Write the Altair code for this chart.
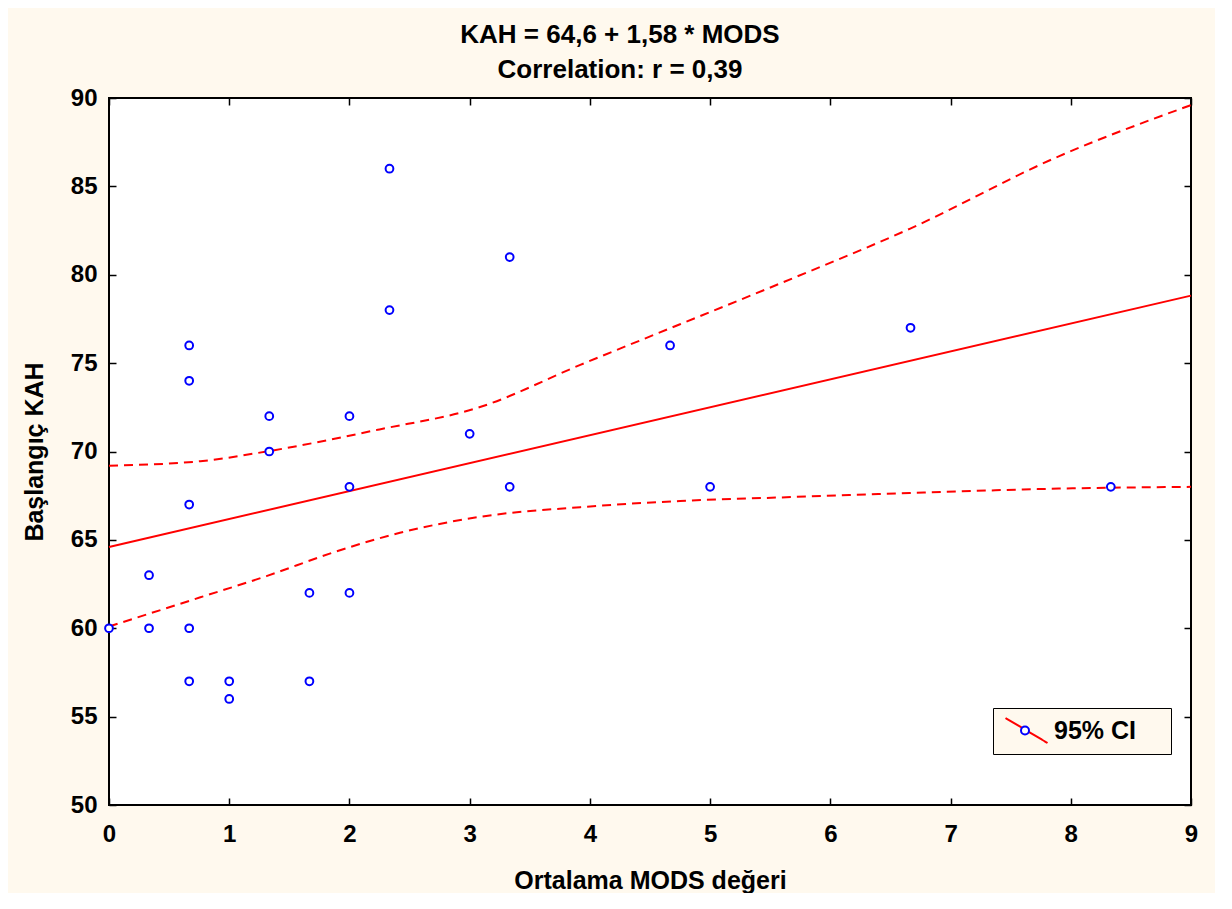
import altair as alt
import pandas as pd

# scatter points (Ortalama MODS değeri, Başlangıç KAH)
pts_x = [0, 0.333, 0.333, 0.667, 0.667, 0.667, 0.667, 0.667, 1, 1, 1.333, 1.333,
         1.667, 1.667, 2, 2, 2, 2.333, 2.333, 3, 3.333, 3.333, 4.667, 5, 6.667, 8.333]
pts_y = [60, 63, 60, 76, 74, 67, 60, 57, 57, 56, 72, 70,
         62, 57, 72, 68, 62, 86, 78, 71, 81, 68, 76, 68, 77, 68]

# regression line endpoints
reg_x = [0, 9]
reg_y = [64.6, 78.82]

# 95% confidence band
upper_x = [0, 0.76, 1.31, 2.25, 3.08, 3.92, 4.75, 5.58, 6.66, 7.9, 9]
upper_y = [69.2, 69.45, 70.0, 71.25, 72.5, 74.9, 77.2, 79.5, 82.6, 86.7, 89.6]
lower_x = [0, 0.76, 1.31, 1.87, 2.42, 3.08, 3.92, 4.75, 5.58, 6.66, 7.9, 9]
lower_y = [60.1, 61.75, 62.95, 64.3, 65.4, 66.3, 66.85, 67.2, 67.4, 67.65, 67.9, 68.0]

legend_label = "95% CI"
x_title = "Ortalama MODS değeri"
y_title = "Başlangıç KAH"
title_lines = ["KAH = 64,6 + 1,58 * MODS", "Correlation: r = 0,39"]

FONT = "Liberation Sans"
CREAM = "#FFF9EE"
RED = "#FF0000"
BLUE = "#0000FF"

pts = pd.DataFrame({"x": pts_x, "y": pts_y, "pt": "points"})
reg = pd.DataFrame({"x": reg_x, "y": reg_y, "ci": legend_label})
ci = pd.concat([
    pd.DataFrame({"x": upper_x, "y": upper_y, "band": "upper", "ci": legend_label,
                  "bx": "band"}),
    pd.DataFrame({"x": lower_x, "y": lower_y, "band": "lower", "ci": legend_label,
                  "bx": "band"}),
])

xs = alt.Scale(domain=[0, 9], nice=False, zero=False)
ys = alt.Scale(domain=[50, 90], nice=False, zero=False)

tick_common = dict(domain=False, grid=False, tickColor="black", tickWidth=1.5,
                   tickSize=7, offset=-7, labelFont=FONT, labelFontSize=24,
                   labelFontWeight="bold", labelColor="black", labelFlush=False,
                   labelOverlap=False,
                   titleFont=FONT, titleFontSize=25, titleFontWeight="bold",
                   titleColor="black")

x_bottom = alt.Axis(orient="bottom", values=list(range(0, 10)), title=x_title,
                    labelPadding=17, titlePadding=22, format="d", **tick_common)
y_left = alt.Axis(orient="left", values=list(range(50, 95, 5)), title=y_title,
                  labelPadding=12, titlePadding=23, format="d", **tick_common)
x_top = alt.Axis(orient="top", values=list(range(0, 10)), labels=False, title=None,
                 **tick_common)
y_right = alt.Axis(orient="right", values=list(range(50, 95, 5)), labels=False,
                   title=None, **tick_common)

LEG_X, LEG_Y = 884, 610
leg_common = dict(orient="none", legendX=LEG_X, legendY=LEG_Y, padding=10,
                  title=None, symbolSize=441, labelFont=FONT, labelFontSize=25,
                  labelFontWeight="bold")

# legend box (drawn first; a tiny invisible mark at its right end sets its width)
box_legend = alt.Legend(symbolType="M-0.95,-1.19L3.05,1.19", symbolOpacity=0,
                        fillColor=CREAM, strokeColor="black",
                        labelColor="transparent", labelExpr="'.'",
                        labelOffset=126, zindex=0, **leg_common)
# red line + visible label
line_legend = alt.Legend(symbolType="M-0.95,-1.19L3.05,1.19", symbolStrokeWidth=2,
                         symbolStrokeColor=RED, symbolDash=[1, 0],
                         labelColor="black", labelOffset=26, zindex=1,
                         **leg_common)
# blue circle on top
pt_legend = alt.Legend(
    symbolType="M1.286,0A0.381,0.381,0,1,1,0.524,0A0.381,0.381,0,1,1,1.286,0Z",
    symbolStrokeWidth=2, symbolFillColor=CREAM,
    labelColor="transparent", labelExpr="'.'", labelOffset=126,
    zindex=2, **leg_common)

color_enc = alt.Color("ci:N", scale=alt.Scale(domain=[legend_label], range=[RED]),
                      legend=line_legend)

band_layer = alt.Chart(ci).mark_line(strokeWidth=2,
                                      interpolate="monotone").encode(
    x=alt.X("x:Q", scale=xs, axis=None),
    y=alt.Y("y:Q", scale=ys, axis=None),
    detail="band:N",
    color=color_enc,
    strokeDash=alt.StrokeDash("bx:N", scale=alt.Scale(domain=["band"],
                                                      range=[[9, 6]]),
                              legend=box_legend),
)

reg_layer = alt.Chart(reg).mark_line(strokeWidth=2).encode(
    x=alt.X("x:Q", scale=xs, axis=x_top),
    y=alt.Y("y:Q", scale=ys, axis=y_right),
    color=color_enc,
)

pt_layer = alt.Chart(pts).mark_point(shape="circle", size=60, strokeWidth=2,
                                     fill="white", opacity=1, filled=False).encode(
    x=alt.X("x:Q", scale=xs, axis=x_bottom),
    y=alt.Y("y:Q", scale=ys, axis=y_left),
    stroke=alt.Stroke("pt:N", scale=alt.Scale(domain=["points"], range=[BLUE]),
                      legend=pt_legend),
)

chart = alt.layer(band_layer, reg_layer, pt_layer).properties(
    width=1082, height=707,
    autosize=alt.AutoSizeParams(type="none"),
    padding={"left": 101, "top": 90, "right": 24, "bottom": 88},
    background=CREAM,
    title=alt.Title(title_lines, font=FONT, fontSize=26, fontWeight="bold",
                    color="black", anchor="middle", dx=-30, offset=3,
                    lineHeight=35),
).configure_view(
    fill="white", stroke="black", strokeWidth=2,
)

chart.save("out.html", embed_options={"renderer": "svg", "actions": False})
